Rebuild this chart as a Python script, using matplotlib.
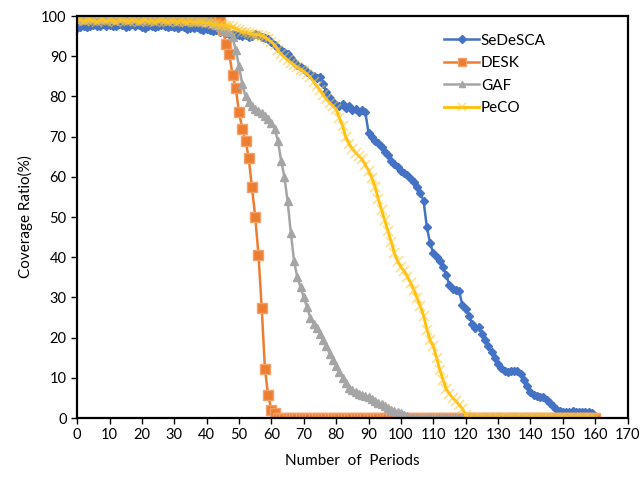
import numpy as np
import matplotlib.pyplot as plt

periods = list(range(0, 161))

sedesca = [
    97.0, 97.3, 97.5, 97.2, 97.6, 97.8, 97.4, 97.6, 98.0, 97.5,
    97.8, 97.4, 97.6, 98.0, 97.7, 97.3, 97.6, 97.9, 97.5, 97.7,
    97.2, 97.0, 97.4, 97.6, 97.3, 97.5, 97.8, 97.4, 97.2, 97.5,
    97.3, 97.0, 97.4, 97.2, 96.8, 97.1, 96.9, 97.2, 96.8, 96.5,
    96.8, 96.5, 96.2, 96.5, 96.0, 96.3, 95.8, 95.5, 95.6, 95.2,
    95.4, 95.0, 95.2, 94.8, 95.0, 95.5, 95.2, 94.8, 94.5, 94.2,
    93.5, 92.8, 92.0, 91.5, 91.0, 90.5, 89.5, 88.5, 87.8, 87.2,
    86.8, 86.0, 85.5, 85.0, 84.5, 84.8, 83.0, 81.0, 79.5, 78.5,
    77.8, 77.5, 78.0, 77.2, 77.5, 76.5, 76.8, 76.2, 76.5, 76.0,
    71.0, 70.0, 68.8, 68.5, 67.5, 66.2, 65.5, 64.0, 63.2, 62.5,
    61.5, 61.0, 60.5, 59.5, 58.8, 57.5, 56.0, 54.0, 47.5, 43.5,
    41.0, 40.0, 39.0, 37.5, 35.5, 33.0, 32.0, 31.8, 31.5, 28.0,
    27.0, 25.5, 23.5, 22.5, 22.6, 21.0, 19.5, 18.0, 16.5, 15.0,
    13.5, 12.5, 11.8, 11.5, 11.8, 11.6, 11.8, 11.0, 9.5, 8.0,
    6.5, 5.7, 5.5, 5.3, 5.3, 4.5, 3.8, 3.0, 2.2, 1.8,
    1.6, 1.5, 1.6, 1.7, 1.5, 1.6, 1.6, 1.5, 1.4, 1.2,
    0.3,
]

desk = [
    100, 100, 100, 100, 100, 100, 100, 100, 100, 100,
    100, 100, 100, 100, 100, 100, 100, 100, 100, 100,
    100, 100, 100, 100, 100, 100, 100, 100, 100, 100,
    100, 100, 100, 99.4, 99.4, 99.4, 99.3, 99.3, 99.3, 99.3,
    99.2, 99.2, 99.2, 99.1, 99.0, 96.5, 93.0, 90.5, 85.3, 82.0,
    76.0, 72.0, 69.0, 64.6, 57.4, 50.0, 40.6, 27.4, 12.2, 5.6,
    2.0, 1.3, 0, 0, 0, 0, 0, 0, 0, 0,
    0, 0, 0, 0, 0, 0, 0, 0, 0, 0,
    0, 0, 0, 0, 0, 0, 0, 0, 0, 0,
    0, 0, 0, 0, 0, 0, 0, 0, 0, 0,
    0, 0, 0, 0, 0, 0, 0, 0, 0, 0,
    0, 0, 0, 0, 0, 0, 0, 0, 0, 0,
    0, 0, 0, 0, 0, 0, 0, 0, 0, 0,
    0, 0, 0, 0, 0, 0, 0, 0, 0, 0,
    0, 0, 0, 0, 0, 0, 0, 0, 0, 0,
    0, 0, 0, 0, 0, 0, 0, 0, 0, 0,
    0,
]

gaf = [
    99.4, 99.5, 99.3, 99.5, 99.4, 99.6, 99.4, 99.3, 99.5, 99.4,
    99.5, 99.3, 99.4, 99.6, 99.4, 99.5, 99.3, 99.4, 99.5, 99.4,
    99.3, 99.5, 99.4, 99.3, 99.5, 99.4, 99.4, 99.3, 99.5, 99.4,
    99.3, 99.4, 99.3, 99.2, 99.3, 99.2, 99.1, 99.2, 99.1, 99.0,
    99.0, 98.8, 98.3, 97.8, 97.3, 96.8, 96.3, 95.9, 94.7, 91.5,
    87.5, 83.0, 80.0, 78.5, 77.5, 76.8, 76.3, 75.8, 75.1, 74.5,
    73.5, 72.0, 69.0, 64.0, 60.0, 54.0, 46.0, 39.0, 35.0, 32.5,
    30.0, 27.5, 25.0, 23.5, 22.5, 21.0, 19.5, 17.8, 16.0, 14.5,
    13.0, 11.5, 10.0, 8.8, 7.5, 7.0, 6.5, 6.0, 5.8, 5.5,
    5.2, 4.8, 4.3, 3.8, 3.4, 3.0, 2.5, 2.0, 1.7, 1.4,
    1.2, 0.8, 0.4, 0, 0, 0, 0, 0, 0, 0,
    0, 0, 0, 0, 0, 0, 0, 0, 0, 0,
    0, 0, 0, 0, 0, 0, 0, 0, 0, 0,
    0, 0, 0, 0, 0, 0, 0, 0, 0, 0,
    0, 0, 0, 0, 0, 0, 0, 0, 0, 0,
    0, 0, 0, 0, 0, 0, 0, 0, 0, 0,
    0,
]

peco = [
    98.8, 99.0, 98.7, 98.9, 99.1, 98.8, 98.6, 98.9, 99.0, 98.7,
    98.9, 98.8, 98.6, 98.9, 99.0, 98.8, 98.7, 98.9, 98.8, 98.6,
    98.8, 98.9, 98.7, 98.8, 98.6, 98.8, 98.9, 98.7, 98.6, 98.8,
    98.7, 98.6, 98.8, 98.6, 98.5, 98.7, 98.5, 98.4, 98.6, 98.4,
    98.3, 98.2, 98.0, 97.9, 97.8, 97.7, 97.6, 97.5, 97.2, 96.8,
    96.4, 96.1, 95.9, 95.7, 95.5, 95.4, 95.3, 95.1, 94.7, 94.2,
    93.6, 92.8, 91.5, 90.5, 89.8, 89.0, 88.4, 87.8, 87.2, 86.6,
    86.2, 85.6, 84.8, 83.7, 82.6, 81.5, 80.4, 79.3, 78.4, 77.6,
    76.8, 74.6, 72.6, 69.8, 68.2, 67.0, 66.0, 65.2, 64.4, 63.0,
    61.5, 59.8, 57.5, 54.5, 51.8, 49.2, 46.5, 43.8, 41.0, 39.0,
    37.6, 36.5, 35.2, 33.6, 31.8, 29.8, 27.8, 25.5, 22.0, 19.5,
    17.8, 15.0, 12.0, 9.5, 7.2, 6.0, 5.0, 4.2, 3.3, 2.3,
    0.8, 0, 0, 0, 0, 0, 0, 0, 0, 0,
    0, 0, 0, 0, 0, 0, 0, 0, 0, 0,
    0, 0, 0, 0, 0, 0, 0, 0, 0, 0,
    0, 0, 0, 0, 0, 0, 0, 0, 0, 0,
    0,
]

plt.rcParams['font.family'] = ['Lato', 'DejaVu Sans']

fig = plt.figure(figsize=(6.43, 4.78), dpi=100)
ax = fig.add_axes([0.12, 0.1255, 0.856, 0.841])

ax.plot(periods, sedesca, color='#4472C4', lw=1.8, marker='D', ms=4.5,
        mec='#4472C4', mfc='#4472C4', label='SeDeSCA')
ax.plot(periods, desk, color='#ED7D31', lw=1.8, marker='s', ms=6.5,
        mec='#F4A26B', mfc='#ED7D31', label='DESK')
ax.plot(periods, gaf, color='#A5A5A5', lw=1.8, marker='^', ms=6,
        mec='#A5A5A5', mfc='#A5A5A5', label='GAF')
ax.plot(periods, peco, color='#FFC000', lw=2.0, marker='x', ms=7, mew=1.2,
        mec=(1.0, 0.78, 0.2, 0.55), label='PeCO')

ax.set_xlim(0, 170)
ax.set_ylim(0, 100)
ax.set_xticks(range(0, 171, 10))
ax.set_yticks(range(0, 101, 10))
ax.tick_params(direction='out', length=4, width=1, labelsize=10.5, colors='black')

for s in ax.spines.values():
    s.set_color('black')
    s.set_linewidth(1.6)

ax.set_xlabel('Number  of  Periods', fontsize=11, labelpad=8)
ax.set_ylabel('Coverage Ratio(%)', fontsize=11, labelpad=6)

ax.legend(loc='upper left', bbox_to_anchor=(0.642, 0.99), frameon=False,
          fontsize=11, handlelength=2.3, labelspacing=0.55, handletextpad=0.1,
          markerscale=0.8)

fig.savefig('out.png', dpi=100)
